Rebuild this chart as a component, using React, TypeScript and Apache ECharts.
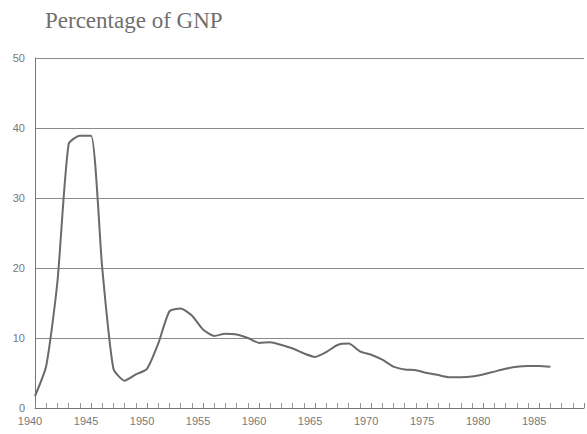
import React, { useEffect, useRef } from "react";
import * as echarts from "echarts";

const years = [
  1940, 1941, 1942, 1943, 1944, 1945, 1946, 1947, 1948, 1949,
  1950, 1951, 1952, 1953, 1954, 1955, 1956, 1957, 1958, 1959,
  1960, 1961, 1962, 1963, 1964, 1965, 1966, 1967, 1968, 1969,
  1970, 1971, 1972, 1973, 1974, 1975, 1976, 1977, 1978, 1979,
  1980, 1981, 1982, 1983, 1984, 1985, 1986,
];
const percentGNP = [
  1.7, 6.0, 18.0, 37.7, 38.9, 38.9, 20.0, 5.6, 3.9, 4.8,
  5.6, 9.2, 13.8, 14.2, 13.2, 11.2, 10.3, 10.6, 10.5, 10.0,
  9.3, 9.4, 9.0, 8.5, 7.8, 7.3, 8.0, 9.0, 9.2, 8.1,
  7.6, 6.9, 5.9, 5.5, 5.4, 5.0, 4.7, 4.4, 4.4, 4.5,
  4.8, 5.2, 5.6, 5.9, 6.0, 6.0, 5.9,
];
const titleText = "Percentage of GNP";

export default function App() {
  const ref = useRef<HTMLDivElement>(null);
  useEffect(() => {
    if (!ref.current) return;
    const chart = echarts.init(ref.current, null, { renderer: "svg" });
    chart.setOption({
      animation: false,
      backgroundColor: "#ffffff",
      title: {
        text: titleText,
        left: 40,
        top: 4,
        textStyle: {
          fontFamily: "Liberation Serif",
          fontWeight: "normal",
          fontSize: 23,
          color: "#6f6f6f",
        },
      },
      grid: { left: 35, right: 0, top: 58, bottom: 26 },
      xAxis: {
        type: "value",
        min: 1940,
        max: 1989,
        interval: 5,
        axisLine: { show: true, lineStyle: { color: "#777", width: 1 } },
        axisTick: { show: true, inside: true, length: 5, lineStyle: { color: "#888" } },
        minorTick: { show: true, splitNumber: 5, length: 5, lineStyle: { color: "#999" } },
        splitLine: { show: false },
        axisLabel: {
          fontFamily: "Liberation Sans",
          fontSize: 11,
          color: "#777",
          margin: 7,
          formatter: (v: number) => (v <= 1985 ? "{a|" + v + "}" : ""),
          rich: {
            a: {
              fontFamily: "Liberation Sans",
              fontSize: 11,
              color: "#777",
              padding: [0, 10, 0, 0],
            },
          },
        },
      },
      yAxis: {
        type: "value",
        min: 0,
        max: 50,
        interval: 10,
        axisLine: { show: true, lineStyle: { color: "#777", width: 1 } },
        axisTick: { show: false },
        splitLine: { show: true, lineStyle: { color: "#8a8a8a", width: 1 } },
        axisLabel: {
          fontFamily: "Liberation Sans",
          fontSize: 11,
          color: "#777",
          margin: 10,
        },
      },
      series: [
        {
          type: "line",
          data: years.map((y, i) => [y, percentGNP[i]]),
          showSymbol: false,
          smooth: 0.2,
          lineStyle: { color: "#6a6a6a", width: 2 },
        },
      ],
    });
    return () => chart.dispose();
  }, []);
  return (
    <div
      ref={ref}
      style={{ position: "fixed", left: 0, top: 0, width: 587, height: 434 }}
    />
  );
}
